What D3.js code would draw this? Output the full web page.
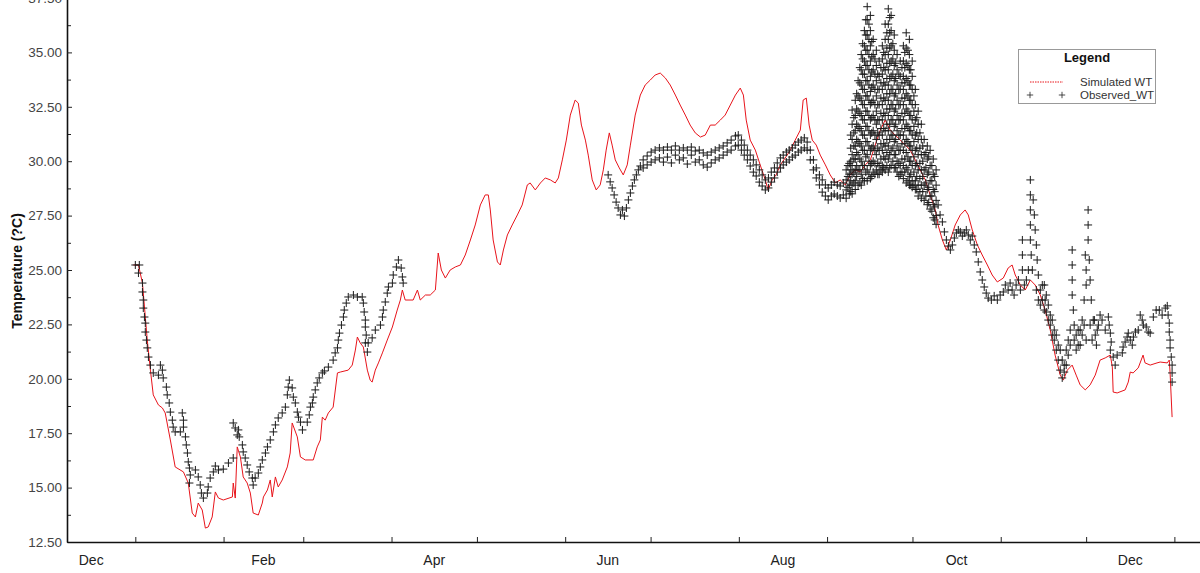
<!DOCTYPE html>
<html><head><meta charset="utf-8">
<script src="https://cdn.jsdelivr.net/npm/d3@7"></script>
<style>
body{margin:0;background:#fff}
svg{display:block}
text{font-family:"Liberation Sans",Arial,sans-serif}
</style></head>
<body><svg id="c" width="1200" height="573"></svg>
<script>
// ---- DATA (day = days after 1 Jan 2019, temp in °C) ----
const yTicks = [12.5,15,17.5,20,22.5,25,27.5,30,32.5,35,37.5];
const monthLabels = ["Dec","Feb","Apr","Jun","Aug","Oct","Dec"];

const simulated = [
[-0.7,25.23],[1.1,25.23],[2.5,24.4],[4.2,21.78],[5.3,20.4],[6.3,19.26],[8.1,18.8],[9.5,18.66],[10.5,18.43],[12.3,17.19],
[14.0,15.95],[16.9,15.72],[18.6,15.21],[20.0,13.83],[21.1,13.65],[22.1,14.29],[23.5,13.97],[24.6,13.14],[25.6,13.19],[27.0,13.65],
[28.1,14.8],[29.2,14.52],[30.9,14.43],[34.1,14.57],[34.4,15.21],[35.1,14.52],[35.8,16.87],[36.9,16.41],[37.9,15.49],[39.3,15.21],
[40.4,14.75],[41.4,13.83],[43.2,13.74],[44.6,14.29],[45.0,14.57],[46.4,14.89],[47.4,15.35],[48.1,14.57],[49.2,15.49],[50.2,15.03],
[51.6,15.35],[53.4,15.95],[54.4,16.59],[55.1,17.97],[56.9,17.33],[58.0,16.41],[59.7,16.27],[62.5,16.27],[63.9,16.87],[65.0,17.19],
[65.7,18.24],[66.7,18.1],[67.8,18.43],[69.5,18.7],[71.0,20.27],[72.0,20.31],[74.8,20.4],[76.2,20.63],[77.3,21.32],[78.0,21.92],
[79.0,21.65],[80.1,21.46],[81.5,20.4],[82.5,19.94],[83.2,19.85],[84.3,20.4],[85.4,20.73],[86.8,21.19],[88.5,21.78],[90.3,22.38],
[92.0,23.16],[93.1,23.62],[93.8,24.08],[94.8,23.62],[97.6,23.62],[99.1,24.08],[100.1,23.62],[101.9,23.85],[103.6,23.85],[105.4,24.08],
[106.4,25.78],[107.5,25.0],[108.9,24.63],[110.6,25.0],[112.4,25.14],[114.2,25.23],[115.9,25.69],[117.7,26.38],[119.4,27.07],[121.2,27.99],
[122.9,28.45],[124.0,28.45],[124.7,27.76],[125.7,26.38],[127.2,25.37],[128.2,25.23],[129.3,25.92],[130.7,26.61],[132.4,27.07],[134.2,27.53],
[135.9,27.99],[137.7,28.91],[138.7,29.0],[140.5,28.68],[142.3,29.0],[144.0,29.23],[145.8,29.14],[147.5,29.0],[148.6,29.23],[150.0,30.06],
[151.4,30.97],[152.8,32.12],[154.5,32.81],[155.6,32.67],[156.7,31.66],[158.1,30.97],[159.1,30.28],[160.5,29.14],[161.9,28.68],[163.3,28.91],
[164.4,29.6],[165.4,30.51],[166.5,31.3],[167.5,30.74],[168.6,30.06],[170.0,29.69],[171.4,29.37],[172.8,29.83],[173.9,30.74],[175.6,32.12],
[177.4,33.04],[179.1,33.5],[180.9,33.73],[182.6,33.96],[184.4,34.05],[186.2,33.82],[187.9,33.5],[189.7,33.04],[191.4,32.58],[193.2,32.12],
[194.9,31.66],[196.7,31.3],[198.5,31.11],[200.2,31.2],[202.0,31.66],[203.7,31.66],[205.5,31.89],[207.2,32.12],[209.0,32.58],[210.8,33.04],
[212.5,33.36],[213.6,33.04],[214.6,31.89],[216.0,30.97],[217.8,30.51],[219.5,29.83],[221.3,29.14],[222.3,28.68],[223.7,29.14],[225.1,29.37],
[226.6,29.83],[228.3,30.15],[230.1,30.51],[231.8,30.97],[233.6,31.43],[234.6,32.81],[235.7,32.9],[236.7,31.66],[237.8,30.97],[239.2,30.74],
[240.6,30.28],[242.4,29.83],[244.1,29.37],[245.9,29.0],[247.6,29.14],[249.4,28.91],[251.1,29.37],[252.9,29.6],[254.7,29.5],[256.4,29.83],
[258.2,30.06],[259.9,30.74],[261.7,31.43],[263.4,31.89],[265.2,31.43],[266.9,31.2],[268.7,30.97],[270.5,30.74],[272.2,30.51],[274.0,30.06],
[275.7,29.6],[277.5,29.14],[279.2,28.45],[281.0,27.76],[282.0,27.07],[283.5,26.38],[284.9,25.92],[286.3,26.38],[288.0,27.07],[289.8,27.53],
[291.5,27.76],[292.6,27.53],[294.0,26.84],[295.8,26.15],[297.5,25.69],[299.3,25.23],[301.0,24.77],[302.8,24.45],[304.9,24.63],[306.6,25.09],
[308.0,25.23],[309.1,24.77],[310.9,24.31],[312.6,24.08],[314.4,24.54],[316.1,24.31],[317.9,23.85],[319.6,23.16],[321.4,22.24],[323.1,21.09],
[324.9,20.17],[326.0,19.94],[327.4,20.4],[329.1,20.63],[330.5,20.17],[331.9,19.72],[333.7,19.49],[335.4,19.72],[337.2,20.17],[338.9,20.86],
[340.7,20.96],[342.5,21.09],[343.2,20.54],[343.5,19.39],[344.9,19.35],[347.7,19.49],[348.8,19.85],[349.5,20.31],[350.5,20.27],[352.3,20.5],
[354.0,21.09],[354.7,20.73],[356.5,20.63],[358.9,20.73],[360.0,20.77],[362.5,20.73],[363.2,20.86],[363.5,20.27],[364.2,18.24]
];

const observedWinter = [
[0,25.23],[1.4,25.23],[1.1,24.86],[2.5,24.4],[2.5,23.99],[2.8,23.62],[2.8,23.25],[3.2,22.84],[3.5,22.56],[3.5,22.15],
[3.9,21.78],[4.2,21.42],[4.6,21.0],[5.3,20.63],[6.3,20.27],[8.1,20.17],[8.8,20.63],[9.5,20.4],[9.8,20.04],[10.9,19.62],
[11.2,19.26],[11.9,18.89],[12.3,18.47],[13.0,18.1],[13.3,17.78],[14.0,17.56],[15.8,17.56],[16.5,18.43],[16.9,18.1],[16.9,17.78],
[17.6,17.33],[17.9,16.96],[18.3,16.59],[18.6,16.18],[19.0,15.9],[19.3,15.58],[19.0,15.21],[21.1,15.81],[22.1,15.49],[22.8,15.12],
[23.2,14.75],[23.9,14.52],[25.3,14.75],[25.6,15.03],[26.3,15.44],[27.4,15.72],[28.1,15.99],[29.2,15.81],[30.9,15.85],[32.7,16.13],
[34.4,16.36],[34.4,17.97],[35.1,17.74],[35.8,17.42],[36.2,17.65],[36.5,17.33],[37.6,16.96],[37.9,16.64],[38.6,16.36],[39.3,16.04],
[40.0,15.72],[41.1,15.44],[41.4,15.12],[42.1,15.44],[43.2,15.67],[43.9,15.95],[44.6,16.27],[45.7,16.59],[46.4,16.87],[47.4,17.19],
[48.5,17.56],[49.2,17.88],[50.2,18.2],[51.6,18.43],[52.7,18.7],[53.4,19.26],[53.7,19.62],[54.1,19.94],[55.1,19.58],[55.5,19.16],
[56.2,18.89],[56.9,18.47],[57.3,18.24],[58.0,18.01],[58.7,17.65],[60.4,18.01],[61.1,18.34],[61.5,18.7],[62.2,18.89],[62.5,19.16],
[63.2,19.49],[63.9,19.81],[64.6,20.04],[65.7,20.27],[66.4,20.36],[67.8,20.54],[69.5,20.86],[70.2,21.19],[71.0,21.42],[71.3,21.78],
[71.7,22.1],[72.4,22.47],[73.1,22.84],[73.4,23.16],[74.1,23.48],[74.8,23.76],[76.6,23.85],[78.0,23.76],[79.7,23.76],[80.1,23.48],
[80.4,23.07],[80.8,22.7],[80.8,22.38],[81.1,22.01],[80.8,21.65],[81.5,21.23],[81.8,21.65],[83.2,21.88],[84.3,22.24],[86.1,22.47],
[86.8,22.84],[87.1,23.16],[87.8,23.53],[88.5,23.94],[88.9,24.22],[90.3,24.4],[90.6,24.77],[91.7,25.14],[92.4,25.46],[93.4,25.09],
[93.8,24.68],[94.1,24.4]
];

const observedSummer = [
[166.1,29.37],[166.8,29.05],[167.5,28.77],[168.2,28.45],[168.9,28.12],[169.6,27.85],[170.4,27.53],[171.1,27.76],[171.8,27.48],[172.5,27.85],
[173.2,28.22],[173.9,28.54],[174.6,28.86],[175.3,29.14],[176.0,29.37],[176.7,29.6],[177.4,29.78],
[178.4,30.06],[178.4,29.69],[179.8,30.24],[179.8,29.83],[181.2,30.42],[181.2,29.96],[182.6,30.51],[182.6,30.06],[184.1,30.61],[184.1,30.15],
[185.5,30.51],[185.5,29.96],[186.9,30.65],[186.9,30.19],[188.3,30.51],[188.3,29.92],[189.7,30.70],[189.7,30.28],[191.1,30.51],[191.1,30.06],
[192.5,30.61],[192.5,30.15],[193.9,30.51],[193.9,29.87],[195.3,30.65],[195.3,30.28],[196.7,30.47],[196.7,29.96],[198.1,30.51],[198.1,30.06],
[199.5,30.38],[199.5,29.83],[200.9,30.28],[200.9,29.73],[202.3,30.42],[202.3,29.92],[203.7,30.51],[203.7,30.06],[205.1,30.61],[205.1,30.15],
[206.5,30.70],[206.5,30.28],[207.9,30.84],[207.9,30.42],[209.3,30.97],[209.3,30.51],[210.8,31.16],[210.8,30.70],[211.8,31.2],[211.8,30.74],
[212.9,30.97],[212.9,30.51],[213.9,30.74],[213.9,30.28],[215.0,30.51],[215.0,30.06],[216.0,30.28],[216.0,29.78],[217.1,30.06],[217.1,29.5],
[218.1,29.83],[218.1,29.32],[219.2,29.6],[219.2,29.04],[220.2,29.37],[220.2,28.86],[221.3,29.14],[221.3,28.68],[222.4,29.23],[222.4,28.77],
[223.4,29.5],[223.4,29.04],[224.5,29.69],[224.5,29.23],[225.5,29.92],[225.5,29.5],[226.6,30.15],[226.6,29.69],[227.6,30.28],[227.6,29.83],
[228.7,30.42],[228.7,29.96],[229.7,30.51],[229.7,30.06],[230.8,30.61],[230.8,30.19],[231.8,30.74],[231.8,30.28],[232.9,30.88],[232.9,30.42],
[233.9,30.97],[233.9,30.51],[235.0,31.07],[235.0,30.61],[236.0,30.88],[236.0,30.51],[237.1,30.51],[237.1,30.06],[238.2,30.06],[238.2,29.6],
[239.2,29.69],[239.2,29.23],[240.3,29.37],[240.3,28.91],[241.3,29.14],[241.3,28.58],[242.4,28.91],[242.4,28.4],[243.4,28.77],[243.4,28.22],
[244.5,28.91],[244.5,28.4],[245.5,29.04],[245.5,28.49],[246.6,28.91],[246.6,28.4],[247.6,28.86],[247.6,28.31],[248.7,29.0],[248.7,28.45]
];

const peakDays = [249.7,250.8,251.8,252.9,253.9,255.0,256.1,257.1,258.2,259.2,260.3,261.3,262.4,263.4,264.5,265.5,
266.6,267.6,268.7,269.8,270.8,271.9,272.9,274.0,275.0,276.1,277.1,278.2,279.2,280.3,281.3];
const peakTemps = [
[29.6,29.14,28.68,28.3],
[29.9,29.4,28.9,28.5],
[32.35,31.7,31.0,30.3,29.8,29.4,28.9,28.5],
[32.8,32.1,31.4,30.7,30.1,29.6,29.1,28.7],
[33.7,33.0,32.3,31.6,30.9,30.3,29.6,28.9],
[34.9,34.2,33.5,32.8,32.1,31.4,30.7,30.0,29.4,28.9],
[36.0,35.3,34.6,34.0,33.3,32.6,31.9,31.2,30.5,29.8,29.1],
[37.1,36.5,35.8,35.1,34.4,33.7,33.0,32.3,31.6,30.9,30.3,29.6,29.1],
[36.7,36.0,35.3,34.6,33.9,33.2,32.6,31.9,31.2,30.5,29.8,29.2],
[35.6,34.9,34.2,33.5,32.8,32.1,31.4,30.7,30.0,29.5],
[35.1,34.4,33.7,33.0,32.3,31.7,31.0,30.3,29.6],
[34.6,33.9,33.3,32.6,31.9,31.2,30.5,29.8,29.4],
[35.3,34.7,34.0,33.3,32.6,31.9,31.2,30.5,29.8,29.5],
[36.3,35.6,34.9,34.2,33.5,32.8,32.1,31.4,30.7,30.1,29.6],
[37.0,36.3,35.6,34.9,34.2,33.5,32.8,32.1,31.4,30.7,30.1,29.5],
[36.7,36.0,35.3,34.6,33.9,33.3,32.6,31.9,31.2,30.5,29.8],
[35.8,35.1,34.4,33.7,33.0,32.3,31.6,30.9,30.3,29.7],
[34.9,34.2,33.5,32.8,32.1,31.4,30.7,30.0,29.5],
[34.6,33.9,33.3,32.6,31.9,31.2,30.5,29.8,29.4],
[35.3,34.6,33.9,33.3,32.6,31.9,31.2,30.5,29.8,29.2],
[35.9,35.2,34.5,33.8,33.1,32.4,31.7,31.0,30.4,29.7,29.0],
[35.6,34.9,34.2,33.5,32.8,32.1,31.4,30.7,30.0,29.3,28.9],
[34.6,33.9,33.3,32.6,31.9,31.2,30.5,29.8,29.1,28.8],
[33.3,32.6,31.9,31.2,30.5,29.8,29.1,28.7],
[32.3,31.7,31.0,30.3,29.6,28.9,28.4],
[31.7,31.0,30.3,29.6,28.9,28.3],
[31.0,30.3,29.6,28.9,28.2],
[30.7,30.1,29.4,28.7,28.0],
[30.5,29.8,29.1,28.4,27.8],
[30.1,29.4,28.7,28.0,27.4],
[29.6,28.9,28.2,27.5,27.1]
];
// second set of readings in the same Aug–Sep cloud (between the columns above)
const peakDays2 = [250.3,251.3,252.4,253.4,254.5,255.5,256.6,257.7,258.7,259.8,260.8,261.9,262.9,264.0,265.0,
266.1,267.1,268.2,269.3,270.3,271.4,272.4,273.5,274.5,275.6,276.6,277.7,278.7,279.8,280.8];
const peakTemps2 = [
[29.8,29.3,28.8],
[31.2,30.6,30.0,29.6,29.1,28.6],
[32.0,31.3,30.7,30.1,29.5,29.0],
[33.1,32.4,31.7,31.0,30.4,29.8,29.3],
[34.3,33.6,32.9,32.2,31.5,30.8,30.1,29.6,29.0],
[35.4,34.7,34.0,33.3,32.6,31.9,31.2,30.5,29.8,29.2],
[36.5,35.8,35.1,34.4,33.7,33.0,32.3,31.6,30.9,30.2,29.5],
[36.3,35.6,34.9,34.2,33.5,32.8,32.1,31.4,30.7,30.0,29.4],
[35.5,34.8,34.1,33.4,32.7,32.0,31.3,30.6,29.9,29.3],
[34.7,34.0,33.3,32.6,31.9,31.2,30.5,29.9,29.4],
[34.0,33.3,32.6,31.9,31.3,30.6,29.9,29.4],
[34.3,33.6,32.9,32.2,31.5,30.8,30.1,29.6],
[35.0,34.3,33.6,32.9,32.2,31.5,30.8,30.2,29.7],
[35.9,35.2,34.5,33.8,33.1,32.4,31.7,31.0,30.4,29.8],
[36.6,35.9,35.2,34.5,33.8,33.1,32.4,31.7,31.0,30.3,29.7],
[35.4,34.7,34.0,33.3,32.6,31.9,31.2,30.6,30.0],
[34.5,33.8,33.1,32.4,31.7,31.0,30.3,29.7],
[34.0,33.3,32.6,31.9,31.2,30.5,29.9,29.3],
[34.3,33.6,32.9,32.2,31.5,30.8,30.1,29.5],
[35.0,34.3,33.6,32.9,32.2,31.5,30.8,30.1,29.5],
[35.1,34.4,33.7,33.0,32.3,31.6,30.9,30.2,29.6,29.1],
[34.2,33.5,32.8,32.1,31.4,30.7,30.0,29.4,28.9],
[33.0,32.3,31.6,30.9,30.2,29.5,28.9],
[32.0,31.3,30.6,29.9,29.3,28.7],
[31.3,30.6,29.9,29.2,28.6],
[30.7,30.0,29.3,28.6],
[30.4,29.7,29.0,28.4],
[30.2,29.5,28.8,28.1],
[29.8,29.1,28.4,27.7],
[29.3,28.6,27.9,27.3]
];

const observedAutumn = [
[282.0,27.99],[282.7,27.53],[283.5,27.21],[284.2,26.75],[284.9,26.38],[285.6,26.1],[286.3,25.92],[287.0,26.15],[287.7,26.47],[288.4,26.7],
[289.1,26.84],[289.8,26.75],[290.5,26.56],[291.2,26.7],[291.9,26.84],[292.6,26.61],[293.3,26.38],[294.0,26.56],[294.7,26.15],[295.4,25.83],
[296.1,25.37],[296.8,24.91],[297.5,24.54],[298.2,24.22],[298.9,23.94],[299.6,23.71],[300.7,23.62],[301.7,23.81],[302.8,23.62],[303.8,23.85],
[304.9,23.99],[305.6,24.31],[306.6,24.08],[307.3,24.4],[308.0,24.08],[308.7,23.85],[309.4,24.31],[310.2,24.54],[310.9,24.08],[311.6,26.38],
[311.6,25.69],[311.6,25.0],[312.3,24.31],[313.0,24.54],[313.7,25.0],[314.4,29.14],[314.4,28.45],[314.4,27.76],[314.4,27.07],[314.4,26.38],
[314.7,25.69],[315.1,25.0],[315.4,28.22],[315.8,27.53],[316.1,26.84],[316.5,26.15],[316.8,25.46],[317.2,24.77],[317.9,24.08],[318.6,23.62],
[319.3,24.31],[319.6,23.62],[320.0,23.07],[320.7,22.7],[321.4,22.47],[322.1,22.01],[322.8,21.78],[323.5,21.32],[324.2,20.86],[324.9,20.4],
[325.6,20.04],[326.3,20.63],[327.0,21.32],[327.7,21.78],[328.4,22.24],[329.1,25.92],[329.1,25.23],[329.1,24.54],[329.1,23.85],[329.5,23.16],
[329.8,22.47],[330.5,22.01],[331.2,21.55],[331.9,22.24],[332.6,22.7],[333.3,23.62],[333.7,25.69],[334.0,25.0],[334.0,24.31],[334.7,27.76],
[334.7,27.07],[334.7,26.38],[335.1,25.46],[335.4,24.54],[335.8,23.62],[336.5,22.7],[337.2,22.01],[337.9,22.24],[338.9,22.93],[339.6,22.7],
[340.7,22.24],[341.8,22.84],[342.1,22.47],[342.5,22.1],[342.8,21.69],[342.5,21.32],[343.5,21.0],[344.2,20.63],[344.9,21.09],[346.7,21.19],
[347.0,21.46],[347.7,21.69],[348.4,21.92],[348.8,22.1],[349.5,21.78],[350.2,21.55],[350.6,21.92],[351.3,22.15],[352.3,22.24],[353.0,22.93],
[353.7,22.7],[354.1,22.47],[355.1,22.38],[355.8,22.15],[356.5,22.1],[357.6,22.84],[358.6,23.16],[359.7,23.16],[360.7,22.93],[361.8,23.25],
[362.5,23.35],[362.8,22.93],[363.2,22.56],[363.2,22.15],[363.5,21.78],[363.5,21.42],[363.9,21.0],[364.2,20.63],[364.2,20.27],[364.2,19.85],
[316.5,24.08],[317.2,23.62],[317.9,23.39],[318.6,24.31],[319.3,23.16],[320.0,23.85],[320.7,23.39],[321.4,22.93],[322.1,22.7],[322.8,22.24],
[323.5,22.01],[324.2,21.55],[324.9,21.32],[325.6,20.86],[326.3,20.31],[327.0,20.63],[327.7,21.09],[328.4,21.55],[329.8,21.78],[330.5,21.32],
[331.2,22.24],[331.9,21.55],[332.6,22.01],[333.3,22.47],[334.0,21.78],[335.4,22.47],[336.1,21.78],[336.9,22.7],[337.6,21.55],[338.3,22.47]
];

// ---- CHART ----
const BASE = Date.UTC(2019,0,1);
const toDate = d => new Date(BASE + d*864e5);
const svg = d3.select("#c");
const x = d3.scaleUtc().domain([new Date(Date.UTC(2018,11,8)), new Date(Date.UTC(2020,0,10))]).range([67,1200]);
const y = d3.scaleLinear().domain([12.5,37.5]).range([542,-2]);

// y axis
const minor = yTicks.slice(0,-1).map(t => t+1.25);
svg.append("g").attr("transform","translate(67,0)")
  .call(d3.axisLeft(y).tickValues(minor).tickSize(-4).tickSizeOuter(0).tickFormat(""))
  .call(g=>g.select(".domain").remove())
  .call(g=>g.selectAll("line").attr("stroke","#222"));
svg.append("g").attr("transform","translate(67,0)")
  .call(d3.axisLeft(y).tickValues(yTicks).tickSize(-5).tickSizeOuter(0).tickPadding(5).tickFormat(d3.format(".2f")))
  .call(g=>g.select(".domain").attr("stroke","#111").attr("stroke-width",1.6))
  .call(g=>g.selectAll("line").attr("stroke","#222"))
  .call(g=>g.selectAll("text").attr("fill","#444").style("font-size","13.5px").style("font-family","'Liberation Sans',Arial,sans-serif"));

// x axis
const months = d3.utcMonth.range(new Date(Date.UTC(2019,0,1)), new Date(Date.UTC(2020,0,2)));
svg.append("g").attr("transform","translate(0,542)")
  .call(d3.axisBottom(x).tickValues(months).tickSize(-5).tickSizeOuter(0).tickFormat(""))
  .call(g=>g.select(".domain").attr("stroke","#111").attr("stroke-width",1.6))
  .call(g=>g.selectAll("line").attr("stroke","#222"));
const labelMonths = [0,2,4,6,8,10,12].map(i => {
  const s = new Date(Date.UTC(2018,11+i,1)), e = new Date(Date.UTC(2018,12+i,1));
  return new Date((+s + +e)/2);
});
svg.append("g").selectAll("text").data(labelMonths).join("text")
  .attr("x", d=>x(d)).attr("y",565).attr("text-anchor","middle")
  .attr("fill","#222").style("font-size","14px")
  .text((d,i)=>monthLabels[i]);

// y label
svg.append("text").attr("transform","translate(22,271) rotate(-90)")
  .attr("text-anchor","middle").attr("font-weight","bold").style("font-size","14px").attr("fill","#111")
  .text("Temperature (?C)");

// simulated line
svg.append("path").datum(simulated)
  .attr("fill","none").attr("stroke","#e8141b").attr("stroke-width",1)
  .attr("d", d3.line().x(d=>x(toDate(d[0]))).y(d=>y(d[1])));

// observed pluses
const plus = "M-4,0H4M0,-4V4";
const obsAll = observedWinter.concat(observedSummer, observedAutumn);
peakDays.forEach((d,i)=>peakTemps[i].forEach(t=>obsAll.push([d,t])));
peakDays2.forEach((d,i)=>peakTemps2[i].forEach(t=>obsAll.push([d,t])));
svg.append("g").selectAll("path").data(obsAll).join("path")
  .attr("d",plus).attr("stroke","#1a1a1a").attr("stroke-width",1)
  .attr("transform",d=>`translate(${x(toDate(d[0]))},${y(d[1])})`);

// legend
const lg = svg.append("g");
lg.append("rect").attr("x",1018.5).attr("y",49.5).attr("width",137).attr("height",54)
  .attr("fill","#fff").attr("stroke","#999");
lg.append("text").attr("x",1087).attr("y",62).attr("text-anchor","middle").attr("font-weight","bold")
  .style("font-size","13px").attr("fill","#111").text("Legend");
lg.append("line").attr("x1",1030).attr("x2",1063).attr("y1",82).attr("y2",82)
  .attr("stroke","#e8141b").attr("stroke-width",1).attr("stroke-dasharray","1.5,1");
lg.append("text").attr("x",1080).attr("y",86).style("font-size","11.5px").attr("fill","#333").text("Simulated WT");
lg.append("path").attr("d",plus).attr("transform","translate(1030,95) scale(0.8)").attr("stroke","#222");
lg.append("path").attr("d",plus).attr("transform","translate(1062,95) scale(0.8)").attr("stroke","#222");
lg.append("text").attr("x",1080).attr("y",99).style("font-size","11.5px").attr("fill","#333").text("Observed_WT");
</script></body></html>
